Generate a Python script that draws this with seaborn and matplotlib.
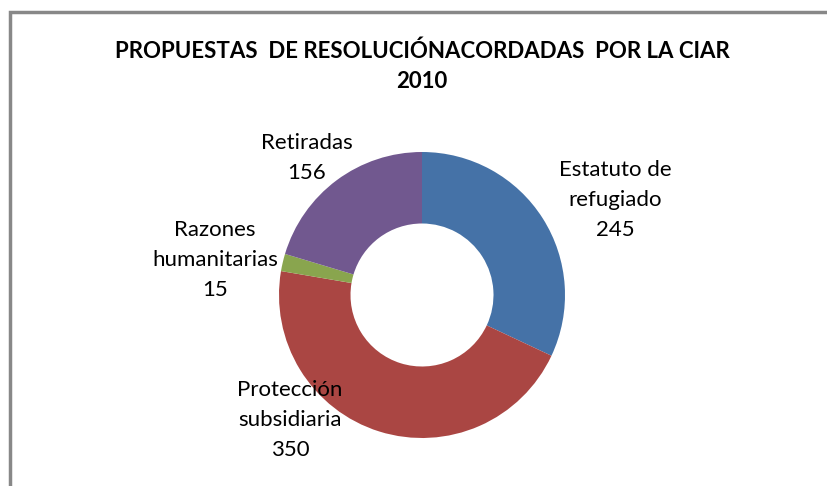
import numpy as np
import matplotlib
matplotlib.use('Agg')
import matplotlib.pyplot as plt
import seaborn as sns

'''
Data
'''
categories = ['Estatuto de\nrefugiado', 'Protección\nsubsidiaria', 'Razones\nhumanitarias', 'Retiradas']
values = [245, 350, 15, 156]
colors = ['#4572A7', '#AA4643', '#89A54E', '#71588F']
title = 'PROPUESTAS  DE RESOLUCIÓNACORDADAS  POR LA CIAR\n2010'

# label anchor points in pixel coords (x, y from top)
label_pos = [(615, 200), (290, 420), (215, 260), (307, 158)]

sns.set_theme(style='white')
plt.rcParams['font.family'] = ['Lato', 'DejaVu Sans']

W, H = 827, 486
fig = plt.figure(figsize=(W / 100, H / 100), dpi=100)
ax = fig.add_axes([0, 0, 1, 1])

# chart frame, cut off on right and bottom
frame = plt.Rectangle((9.5, -20), W + 20, H - 12.5 + 20, fill=False,
                      edgecolor='#888888', linewidth=2.5)
ax.add_patch(frame)

center = (422, H - 295)
radius = 143
ax.pie(values, colors=colors, startangle=90, counterclock=False,
       center=center, radius=radius, frame=True,
       wedgeprops=dict(width=radius * 0.5, linewidth=0))
ax.set_xlim(0, W)
ax.set_ylim(0, H)
ax.set_aspect('equal')
ax.axis('off')

for cat, val, (x, y) in zip(categories, values, label_pos):
    ax.text(x, H - y, f'{cat}\n{val}', ha='center', va='center',
            fontsize=16, linespacing=1.62, color='black')

ax.text(422, H - 66, title, ha='center', va='center', fontsize=16,
        fontweight='bold', linespacing=1.5, color='black')

fig.savefig('out.png', dpi=100)
